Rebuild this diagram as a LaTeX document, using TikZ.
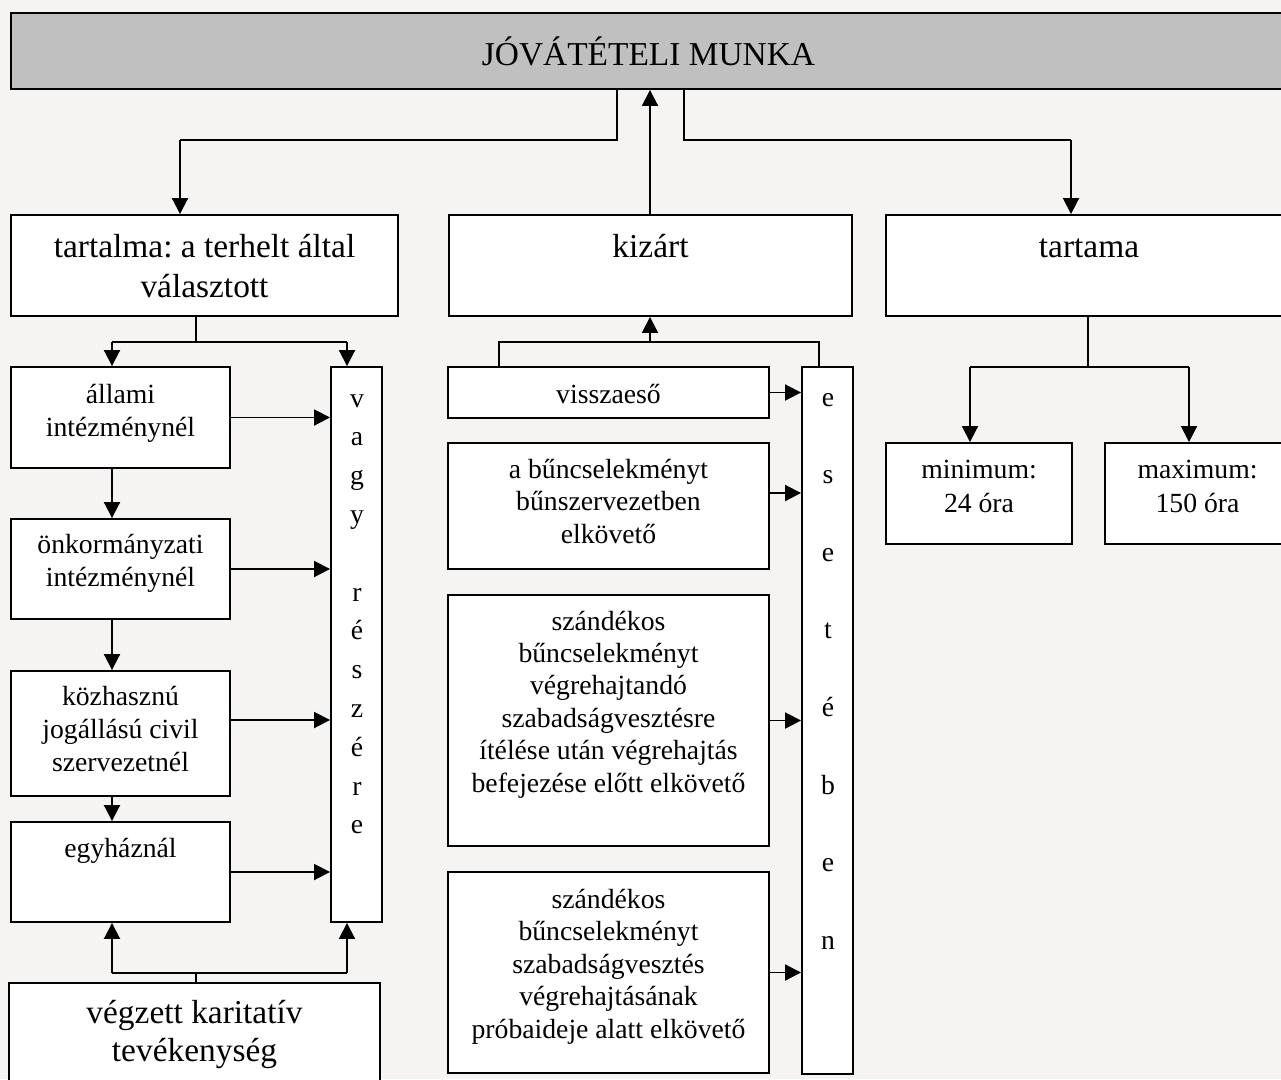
\documentclass[tikz,border=0pt]{standalone}
\usepackage{fontspec}
\setmainfont{Liberation Serif}
\usetikzlibrary{arrows.meta}
\definecolor{bgc}{HTML}{F5F4F2}
\definecolor{titlec}{HTML}{C0C0C0}
\newcommand\ml[1]{\begin{tabular}[t]{@{}c@{}}#1\end{tabular}}
\newcommand\fbig[1]{\fontsize{33.4}{#1}\selectfont}
\newcommand\fsm[1]{\fontsize{27.7}{#1}\selectfont}
\frenchspacing
\begin{document}
\begin{tikzpicture}[x=1pt,y=-1pt,
  box/.style={draw,line width=1.9pt,fill=white,inner sep=0pt,rectangle},
  txt/.style={inner sep=0pt,anchor=base},
  ln/.style={line width=1.9pt},
  arr/.style={line width=1.9pt,-{Triangle[length=16pt,width=16pt]}}]
\useasboundingbox (0,0) rectangle (1281,1079);
\clip (0,0) rectangle (1281,1079);
\fill[bgc] (0,0) rectangle (1281,1079);
% boxes
\node[box,fill=titlec,minimum width=1275pt,minimum height=76pt] (title) at (648.5,51) {};
\node[box,minimum width=387pt,minimum height=101pt] (tartalma) at (204.5,265.5) {};
\node[box,minimum width=403pt,minimum height=101pt] (kizart) at (650.5,265.5) {};
\node[box,minimum width=406pt,minimum height=101pt] (tartama) at (1089,265.5) {};
\node[box,minimum width=219pt,minimum height=101pt] (allami) at (120.5,417.5) {};
\node[box,minimum width=219pt,minimum height=100pt] (onk) at (120.5,569) {};
\node[box,minimum width=219pt,minimum height=125pt] (kozh) at (120.5,733.5) {};
\node[box,minimum width=219pt,minimum height=100pt] (egyh) at (120.5,872) {};
\node[box,minimum width=51pt,minimum height=555pt] (vagy) at (356.5,644.5) {};
\node[box,minimum width=371pt,minimum height=117pt] (veg) at (194.5,1041.5) {};
\node[box,minimum width=321pt,minimum height=51pt] (vissza) at (608.5,392.5) {};
\node[box,minimum width=321pt,minimum height=126pt] (bun) at (608.5,506) {};
\node[box,minimum width=321pt,minimum height=251pt] (szA) at (608.5,720.5) {};
\node[box,minimum width=321pt,minimum height=201pt] (szB) at (608.5,972.5) {};
\node[box,minimum width=51pt,minimum height=707pt] (eset) at (827.5,720.5) {};
\node[box,minimum width=186pt,minimum height=101pt] (min) at (979,493.5) {};
\node[box,minimum width=185pt,minimum height=101pt] (max) at (1197.5,493.5) {};
% texts
\node[txt,font=\fbig{39}] (titleT) at (648.5,65) {JÓVÁTÉTELI MUNKA};
\node[txt,font=\fbig{40}] (tartalmaT) at (204.5,257) {\ml{tartalma: a terhelt által\\választott}};
\node[txt,font=\fbig{40}] (kizartT) at (650.5,257) {kizárt};
\node[txt,font=\fbig{40}] (tartamaT) at (1089,257) {tartama};
\node[txt,font=\fsm{33.5}] (allamiT) at (120.5,403) {\ml{állami\\intézménynél}};
\node[txt,font=\fsm{33.5}] (onkT) at (120.5,553) {\ml{önkormányzati\\intézménynél}};
\node[txt,font=\fsm{33}] (kozhT) at (120.5,705) {\ml{közhasznú\\jogállású civil\\szervezetnél}};
\node[txt,font=\fsm{33}] (egyhT) at (120.5,857) {egyháznál};
\node[txt,font=\fbig{38}] (vegT) at (194.5,1023) {\ml{végzett karitatív\\tevékenység}};
\node[txt,font=\fsm{38.8}] (vagyT) at (357,407) {\ml{v\\a\\g\\y\\ \\r\\é\\s\\z\\é\\r\\e}};
\node[txt,font=\fsm{33}] (visszaT) at (608.5,403) {visszaeső};
\node[txt,font=\fsm{32.7}] (bunT) at (608.5,478) {\ml{a bűncselekményt\\bűnszervezetben\\elkövető}};
\node[txt,font=\fsm{32.4}] (szAT) at (608.5,630) {\ml{szándékos\\bűncselekményt\\végrehajtandó\\szabadságvesztésre\\ítélése után végrehajtás\\befejezése előtt elkövető}};
\node[txt,font=\fsm{32.5}] (szBT) at (608.5,908) {\ml{szándékos\\bűncselekményt\\szabadságvesztés\\végrehajtásának\\próbaideje alatt elkövető}};
\node[txt,font=\fsm{38.8}] (esetT) at (828,406) {\ml{e\\ \\s\\ \\e\\ \\t\\ \\é\\ \\b\\ \\e\\ \\n}};
\node[txt,font=\fsm{34}] (minT) at (979,478) {\ml{minimum:\\24 óra}};
\node[txt,font=\fsm{34}] (maxT) at (1197.5,478) {\ml{maximum:\\150 óra}};
% helper coordinates
\coordinate (hT) at (0,140);
\coordinate (xT1) at (617,0);
\coordinate (xT2) at (684,0);
\coordinate (xTL) at (180,0);
\coordinate (xTR) at (1071,0);
\coordinate (xK) at (650,0);
\coordinate (hL) at (0,342);
\coordinate (xLs) at (196,0);
\coordinate (xL1) at (112,0);
\coordinate (xL2) at (347,0);
\coordinate (hB) at (0,973);
\coordinate (xM1) at (499,0);
\coordinate (xM2) at (819,0);
\coordinate (xRs) at (1088,0);
\coordinate (hR) at (0,367);
\coordinate (xR1) at (970,0);
\coordinate (xR2) at (1189,0);
% top connectors
\draw[ln] (title.south -| xT1) -- (hT -| xT1) -- (hT -| xTL);
\draw[arr] (hT -| xTL) -- (tartalma.north -| xTL);
\draw[ln] (title.south -| xT2) -- (hT -| xT2) -- (hT -| xTR);
\draw[arr] (hT -| xTR) -- (tartama.north -| xTR);
\draw[arr] (kizart.north -| xK) -- (title.south -| xK);
% left column
\draw[ln] (tartalma.south -| xLs) -- (hL -| xLs);
\draw[ln] (hL -| xL1) -- (hL -| xL2);
\draw[arr] (hL -| xL1) -- (allami.north -| xL1);
\draw[arr] (hL -| xL2) -- (vagy.north -| xL2);
\draw[arr] (allami.south -| xL1) -- (onk.north -| xL1);
\draw[arr] (onk.south -| xL1) -- (kozh.north -| xL1);
\draw[arr] (kozh.south -| xL1) -- (egyh.north -| xL1);
\draw[arr] (allami.east) -- (allami.east -| vagy.west);
\draw[arr] (onk.east) -- (onk.east -| vagy.west);
\coordinate (k3) at ([yshift=13.5pt]kozh.east);
\draw[arr] (k3) -- (k3 -| vagy.west);
\draw[arr] (egyh.east) -- (egyh.east -| vagy.west);
\draw[ln] (veg.north -| xLs) -- (hB -| xLs);
\draw[ln] (hB -| xL1) -- (hB -| xL2);
\draw[arr] (hB -| xL1) -- (egyh.south -| xL1);
\draw[arr] (hB -| xL2) -- (vagy.south -| xL2);
% middle column
\draw[ln] (vissza.north -| xM1) -- (hL -| xM1) -- (hL -| xM2) -- (eset.north -| xM2);
\draw[arr] (hL -| xK) -- (kizart.south -| xK);
\draw[arr] (vissza.east) -- (vissza.east -| eset.west);
\coordinate (b2) at ([yshift=13pt]bun.east);
\draw[arr] (b2) -- (b2 -| eset.west);
\draw[arr] (szA.east) -- (szA.east -| eset.west);
\draw[arr] (szB.east) -- (szB.east -| eset.west);
% right column
\draw[ln] (tartama.south -| xRs) -- (hR -| xRs);
\draw[ln] (hR -| xR1) -- (hR -| xR2);
\draw[arr] (hR -| xR1) -- (min.north -| xR1);
\draw[arr] (hR -| xR2) -- (max.north -| xR2);
\end{tikzpicture}
\end{document}
